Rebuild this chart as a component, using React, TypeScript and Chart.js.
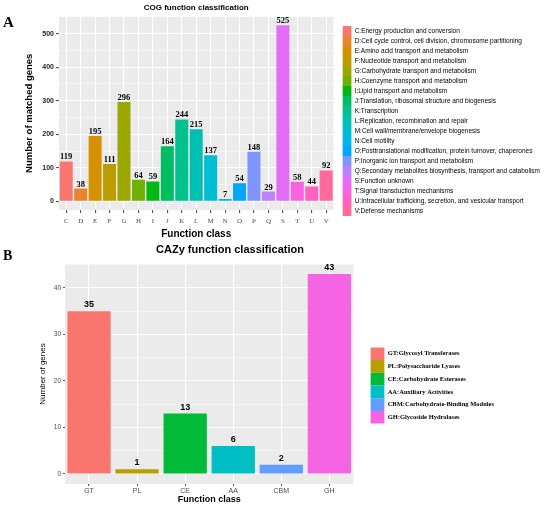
import { useEffect, useRef } from 'react';
import { Chart, registerables } from 'chart.js';

Chart.register(...registerables);
Chart.defaults.font.family = '"Liberation Sans", Arial, sans-serif';

// COG panel (A)
const cogClasses = ['C', 'D', 'E', 'F', 'G', 'H', 'I', 'J', 'K', 'L', 'M', 'N', 'O', 'P', 'Q', 'S', 'T', 'U', 'V'];
const cogCounts = [119, 38, 195, 111, 296, 64, 59, 164, 244, 215, 137, 7, 54, 148, 29, 525, 58, 44, 92];
const cogDescriptions = [
    'C:Energy production and conversion',
    'D:Cell cycle control, cell division, chromosome partitioning',
    'E:Amino acid transport and metabolism',
    'F:Nucleotide transport and metabolism',
    'G:Carbohydrate transport and metabolism',
    'H:Coenzyme transport and metabolism',
    'I:Lipid transport and metabolism',
    'J:Translation, ribosomal structure and biogenesis',
    'K:Transcription',
    'L:Replication, recombination and repair',
    'M:Cell wall/membrane/envelope biogenesis',
    'N:Cell motility',
    'O:Posttranslational modification, protein turnover, chaperones',
    'P:Inorganic ion transport and metabolism',
    'Q:Secondary metabolites biosynthesis, transport and catabolism',
    'S:Function unknown',
    'T:Signal transduction mechanisms',
    'U:Intracellular trafficking, secretion, and vesicular transport',
    'V:Defense mechanisms',
];
const cogColors = [
    '#F8766D', '#E9842C', '#D69100', '#BC9D00', '#9CA700', '#6FB000', '#00B813', '#00BD61', '#00C08E', '#00C0B4',
    '#00BDD4', '#00B5EE', '#00A7FF', '#7F96FF', '#BC81FF', '#E26EF7', '#F863DF', '#FF62BF', '#FF6A9A',
];
const cogTicks = [0, 100, 200, 300, 400, 500];
const cogGrid = [0, 50, 100, 150, 200, 250, 300, 350, 400, 450, 500, 550];

// CAZy panel (B)
const cazyClasses = ['GT', 'PL', 'CE', 'AA', 'CBM', 'GH'];
const cazyCounts = [35, 1, 13, 6, 2, 43];
const cazyDescriptions = [
    'GT:Glycosyl Transferases',
    'PL:Polysaccharide Lyases',
    'CE:Carbohydrate Esterases',
    'AA:Auxiliary Activities',
    'CBM:Carbohydrate-Binding Modules',
    'GH:Glycoside Hydrolases',
];
const cazyColors = ['#F8766D', '#B79F00', '#00BA38', '#00BFC4', '#619CFF', '#F564E3'];
const cazyTicks = [0, 10, 20, 30, 40];
const cazyGrid = [0, 5, 10, 15, 20, 25, 30, 35, 40, 45];

// серый фон панели как в ggplot
const panelBg = {
    id: 'panelBg',
    beforeDraw(chart: any) {
        const { ctx, chartArea } = chart;
        ctx.save();
        ctx.fillStyle = '#EBEBEB';
        ctx.fillRect(chartArea.left, chartArea.top, chartArea.width, chartArea.height);
        ctx.restore();
    },
};

// подписи значений над столбцами
const valueLabels = {
    id: 'valueLabels',
    afterDatasetsDraw(chart: any, _args: any, opts: any) {
        const { ctx } = chart;
        const meta = chart.getDatasetMeta(0);
        const values = chart.data.datasets[0].data;
        ctx.save();
        ctx.font = opts.font;
        ctx.fillStyle = '#000';
        ctx.textAlign = 'center';
        ctx.textBaseline = 'bottom';
        meta.data.forEach((bar: any, i: number) => {
            ctx.fillText(String(values[i]), bar.x, bar.y - opts.offset);
        });
        ctx.restore();
    },
};

const legendItems = (texts: string[], colors: string[]) => () =>
    texts.map((text, i) => ({
        text,
        fillStyle: colors[i],
        strokeStyle: colors[i],
        lineWidth: 0,
        hidden: false,
        index: i,
        datasetIndex: 0,
    }));

const spacer = (w: number) => ({
    type: 'linear',
    position: 'right',
    display: true,
    grid: { display: false, drawTicks: false },
    border: { display: false },
    ticks: { display: false },
    afterFit: (s: any) => {
        s.width = w;
    },
});

export default function App() {
    const cogRef = useRef<HTMLCanvasElement | null>(null);
    const cazyRef = useRef<HTMLCanvasElement | null>(null);

    useEffect(() => {
        document.body.style.margin = '0';
        if (!cogRef.current || !cazyRef.current) return;

        const cogChart = new Chart(cogRef.current, {
            type: 'bar',
            data: {
                labels: cogClasses,
                datasets: [
                    {
                        data: cogCounts,
                        backgroundColor: cogColors,
                        barPercentage: 0.9,
                        categoryPercentage: 1,
                    },
                ],
            },
            options: {
                animation: false,
                responsive: false,
                layout: { padding: { left: 20, right: 0, top: 0, bottom: 0 } },
                plugins: {
                    title: {
                        display: true,
                        fullSize: false,
                        text: 'COG function classification',
                        color: '#000',
                        font: { size: 8, weight: 'bold' },
                        padding: { top: 3, bottom: 4 },
                    },
                    legend: {
                        position: 'right',
                        align: 'center',
                        maxWidth: 240,
                        labels: {
                            generateLabels: legendItems(cogDescriptions, cogColors),
                            boxWidth: 9,
                            boxHeight: 10,
                            padding: 0,
                            color: '#222',
                            font: { size: 6.5 },
                        },
                    },
                    tooltip: { enabled: false },
                    valueLabels: { font: 'bold 8.5px "Liberation Serif"', offset: 0 },
                } as any,
                scales: {
                    x: {
                        offset: true,
                        grid: { color: '#fff', offset: false, lineWidth: 1.1, tickColor: '#555', tickLength: 3 },
                        border: { display: false },
                        ticks: {
                            autoSkip: false,
                            maxRotation: 0,
                            padding: 4,
                            color: '#4D4D4D',
                            font: { family: '"Liberation Serif"', size: 7 },
                        },
                        title: {
                            display: true,
                            text: 'Function class',
                            color: '#000',
                            font: { size: 10, weight: 'bold' },
                            padding: { top: 0, bottom: 2 },
                        },
                        afterFit: (s: any) => {
                            s.height = 32;
                        },
                    },
                    y: {
                        min: -26,
                        max: 551,
                        afterBuildTicks: (s: any) => {
                            s.ticks = cogGrid.map((value) => ({ value }));
                        },
                        grid: {
                            color: '#fff',
                            lineWidth: (c: any) => (cogTicks.includes(c.tick?.value) ? 1.1 : 0.5),
                            tickColor: (c: any) => (cogTicks.includes(c.tick?.value) ? '#555' : 'transparent'),
                            tickLength: 3,
                        },
                        border: { display: false },
                        ticks: {
                            autoSkip: false,
                            padding: 2,
                            color: '#222',
                            font: { size: 7, weight: 'bold' },
                            callback: (v: any) => (cogTicks.includes(v) ? String(v) : ''),
                        },
                        title: {
                            display: true,
                            text: 'Number of matched genes',
                            color: '#000',
                            font: { size: 9.5, weight: 'bold' },
                        },
                        afterFit: (s: any) => {
                            s.width = 39;
                        },
                    },
                    gap: spacer(9),
                } as any,
            },
            plugins: [panelBg, valueLabels],
        });

        const cazyChart = new Chart(cazyRef.current, {
            type: 'bar',
            data: {
                labels: cazyClasses,
                datasets: [
                    {
                        data: cazyCounts,
                        backgroundColor: cazyColors,
                        barPercentage: 0.9,
                        categoryPercentage: 1,
                    },
                ],
            },
            options: {
                animation: false,
                responsive: false,
                layout: { padding: { left: 34, right: 46, top: 22, bottom: 0 } },
                plugins: {
                    legend: {
                        position: 'right',
                        align: 'center',
                        maxWidth: 200,
                        labels: {
                            generateLabels: legendItems(cazyDescriptions, cazyColors),
                            boxWidth: 14,
                            boxHeight: 12.7,
                            padding: 0,
                            color: '#222',
                            font: { family: '"Liberation Serif"', size: 6.5, weight: 'bold' },
                        },
                    },
                    tooltip: { enabled: false },
                    valueLabels: { font: 'bold 9px "Liberation Sans"', offset: 2 },
                } as any,
                scales: {
                    x: {
                        offset: true,
                        grid: { color: '#fff', offset: false, lineWidth: 1.1, tickColor: '#555', tickLength: 2 },
                        border: { display: false },
                        ticks: {
                            autoSkip: false,
                            maxRotation: 0,
                            padding: 1,
                            color: '#4D4D4D',
                            font: { size: 7 },
                        },
                        title: {
                            display: true,
                            text: 'Function class',
                            color: '#000',
                            font: { size: 9, weight: 'bold' },
                            padding: { top: 0, bottom: 1.6 },
                        },
                        afterFit: (s: any) => {
                            s.height = 23;
                        },
                    },
                    y: {
                        min: -2.15,
                        max: 45.15,
                        afterBuildTicks: (s: any) => {
                            s.ticks = cazyGrid.map((value) => ({ value }));
                        },
                        grid: {
                            color: '#fff',
                            lineWidth: (c: any) => (cazyTicks.includes(c.tick?.value) ? 1.1 : 0.5),
                            tickColor: (c: any) => (cazyTicks.includes(c.tick?.value) ? '#555' : 'transparent'),
                            tickLength: 2,
                        },
                        border: { display: false },
                        ticks: {
                            autoSkip: false,
                            padding: 2,
                            color: '#4D4D4D',
                            font: { size: 6.5 },
                            callback: (v: any) => (cazyTicks.includes(v) ? String(v) : ''),
                        },
                        title: {
                            display: true,
                            text: 'Number of genes',
                            color: '#000',
                            font: { size: 8 },
                        },
                        afterFit: (s: any) => {
                            s.width = 31;
                        },
                    },
                    gap: spacer(17),
                } as any,
            },
            plugins: [panelBg, valueLabels],
        });

        return () => {
            cogChart.destroy();
            cazyChart.destroy();
        };
    }, []);

    return (
        <div style={{ position: 'relative', width: 550, height: 507, background: '#fff', overflow: 'hidden' }}>
            <canvas ref={cogRef} width={550} height={242} style={{ position: 'absolute', left: 0, top: 0 }} />
            <div
                style={{
                    position: 'absolute',
                    left: 3,
                    top: 15,
                    font: 'bold 15px "Liberation Serif"',
                    lineHeight: '15px',
                }}
            >
                A
            </div>
            <canvas ref={cazyRef} width={550} height={265} style={{ position: 'absolute', left: 0, top: 242 }} />
            <div
                style={{
                    position: 'absolute',
                    left: 130,
                    top: 243,
                    width: 200,
                    textAlign: 'center',
                    font: 'bold 11px "Liberation Sans"',
                    lineHeight: '13px',
                }}
            >
                CAZy function classification
            </div>
            <div
                style={{
                    position: 'absolute',
                    left: 3,
                    top: 249,
                    font: 'bold 14px "Liberation Serif"',
                    lineHeight: '14px',
                }}
            >
                B
            </div>
        </div>
    );
}
